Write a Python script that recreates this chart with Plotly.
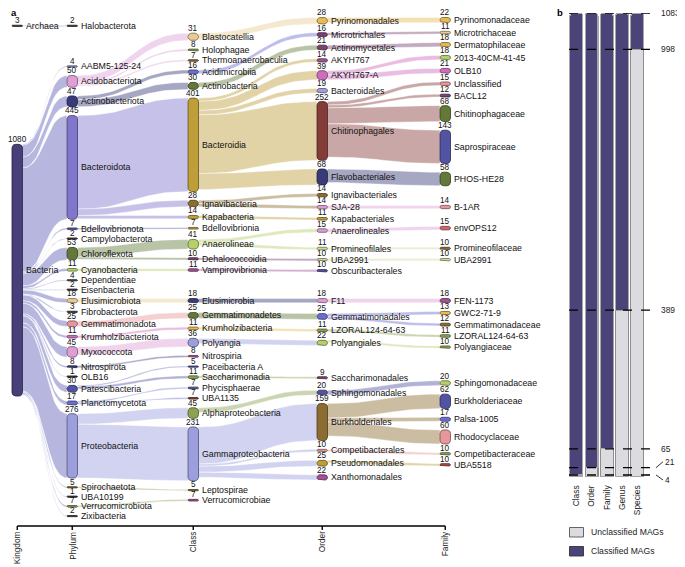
import math
import plotly.graph_objects as go

# ---------------- data ----------------
levels = ["Kingdom", "Phylum", "Class", "Order", "Family"]

kingdom_names = ["Archaea", "Bacteria"]
kingdom_values = [3, 1080]
kingdom_parents = [None, None]

phylum_names = ["Halobacterota", "AABM5-125-24", "Acidobacteriota", "Actinobacteriota", "Bacteroidota",
                "Bdellovibrionota", "Campylobacterota", "Chloroflexota", "Cyanobacteria", "Dependentiae",
                "Eisenbacteria", "Elusimicrobiota", "Fibrobacterota", "Gemmatimonadota", "Krumholzibacteriota",
                "Myxococcota", "Nitrospirota", "OLB16", "Patescibacteria", "Planctomycetota", "Proteobacteria",
                "Spirochaetota", "UBA10199", "Verrucomicrobiota", "Zixibacteria"]
phylum_values = [2, 4, 50, 47, 445, 7, 2, 53, 11, 4, 2, 18, 3, 25, 11, 45, 8, 1, 30, 17, 276, 5, 1, 7, 2]
phylum_parents = ["Archaea"] + ["Bacteria"] * 24

class_names = ["Blastocatellia", "Holophagae", "Thermoanaerobaculia", "Acidimicrobiia", "Actinobacteria",
               "Bacteroidia", "Ignavibacteria", "Kapabacteria", "Bdellovibrionia", "Anaerolineae",
               "Dehalococcoidia", "Vampirovibrionia", "Elusimicrobia", "Gemmatimonadetes", "Krumholzibacteria",
               "Polyangia", "Nitrospiria", "Paceibacteria A", "Saccharimonadia", "Phycisphaerae", "UBA1135",
               "Alphaproteobacteria", "Gammaproteobacteria", "Leptospirae", "Verrucomicrobiae"]
class_values = [31, 8, 7, 16, 30, 401, 28, 14, 7, 41, 10, 11, 18, 25, 11, 36, 8, 5, 11, 7, 7, 45, 231, 5, 7]
class_parents = ["Acidobacteriota", "Acidobacteriota", "Acidobacteriota", "Actinobacteriota", "Actinobacteriota",
                 "Bacteroidota", "Bacteroidota", "Bacteroidota", "Bdellovibrionota", "Chloroflexota",
                 "Chloroflexota", "Cyanobacteria", "Elusimicrobiota", "Gemmatimonadota", "Krumholzibacteriota",
                 "Myxococcota", "Nitrospirota", "Patescibacteria", "Patescibacteria", "Planctomycetota",
                 "Planctomycetota", "Proteobacteria", "Proteobacteria", "Spirochaetota", "Verrucomicrobiota"]

order_names = ["Pyrinomonadales", "Microtrichales", "Actinomycetales", "AKYH767", "AKYH767-A", "Bacteroidales",
               "Chitinophagales", "Flavobacteriales", "Ignavibacteriales", "SJA-28", "Kapabacteriales",
               "Anaerolineales", "Promineofilales", "UBA2991", "Obscuribacterales", "F11", "Gemmatimonadales",
               "LZORAL124-64-63", "Polyangiales", "Saccharimonadales", "Sphingomonadales", "Burkholderiales",
               "Competibacterales", "Pseudomonadales", "Xanthomonadales"]
order_values = [28, 16, 21, 14, 39, 19, 252, 68, 14, 14, 11, 15, 11, 10, 10, 18, 25, 11, 22, 9, 20, 159, 10, 25, 22]
order_parents = ["Blastocatellia", "Acidimicrobiia", "Actinobacteria", "Bacteroidia", "Bacteroidia", "Bacteroidia",
                 "Bacteroidia", "Bacteroidia", "Ignavibacteria", "Ignavibacteria", "Kapabacteria", "Anaerolineae",
                 "Anaerolineae", "Dehalococcoidia", "Vampirovibrionia", "Elusimicrobia", "Gemmatimonadetes",
                 "Krumholzibacteria", "Polyangia", "Saccharimonadia", "Alphaproteobacteria", "Gammaproteobacteria",
                 "Gammaproteobacteria", "Gammaproteobacteria", "Gammaproteobacteria"]

family_names = ["Pyrinomonadaceae", "Microtrichaceae", "Dermatophilaceae", "2013-40CM-41-45", "OLB10",
                "Unclassified", "BACL12", "Chitinophagaceae", "Saprospiraceae", "PHOS-HE28", "B-1AR", "envOPS12",
                "Promineofilaceae", "UBA2991", "FEN-1173", "GWC2-71-9", "Gemmatimonadaceae", "LZORAL124-64-63",
                "Polyangiaceae", "Sphingomonadaceae", "Burkholderiaceae", "Palsa-1005", "Rhodocyclaceae",
                "Competibacteraceae", "UBA5518"]
family_values = [22, 11, 18, 18, 21, 15, 12, 68, 143, 58, 14, 15, 10, 10, 18, 13, 12, 11, 10, 20, 62, 17, 60, 10, 10]
family_parents = ["Pyrinomonadales", "Microtrichales", "Actinomycetales", "AKYH767-A", "AKYH767-A",
                  "Chitinophagales", "Chitinophagales", "Chitinophagales", "Chitinophagales", "Flavobacteriales",
                  "SJA-28", "Anaerolineales", "Promineofilales", "UBA2991", "F11", "Gemmatimonadales",
                  "Gemmatimonadales", "LZORAL124-64-63", "Polyangiales", "Sphingomonadales", "Burkholderiales",
                  "Burkholderiales", "Burkholderiales", "Competibacterales", "Pseudomonadales"]

# panel b data
bar_levels = ["Class", "Order", "Family", "Genus", "Species"]
unclassified_mags = [4, 21, 65, 389, 998]
classified_mags = [1079, 1062, 1018, 694, 85]
marked_counts = [1083, 998, 389, 65, 21, 4]

# ---------------- styles ----------------
kingdom_colors = ["#3c3c3c", "#463f7a"]
phylum_colors = ["#3c3c3c", "#9c9ede", "#de9ed6", "#393b79", "#8076cc", "#5254a3", "#3c3c3c", "#637939",
                 "#b5cf6b", "#3c3c3c", "#3c3c3c", "#e7cb94", "#3c3c3c", "#e7969c", "#ce6dbd", "#de9ed6",
                 "#393b79", "#3c3c3c", "#5254a3", "#6b6ecf", "#9c9ede", "#8c6d31", "#3c3c3c", "#8ca252", "#3c3c3c"]
class_colors = ["#e7cb94", "#8ca252", "#8c6d31", "#6b6ecf", "#637939", "#bd9e39", "#8c6d31", "#bd9e39",
                "#bd9e39", "#b5cf6b", "#7b4173", "#a55194", "#393b79", "#637939", "#e7ba52", "#9c9ede",
                "#a55194", "#5254a3", "#8ca252", "#5254a3", "#843c39", "#8ca252", "#9c9ede", "#8c6d31", "#a55194"]
order_colors = ["#e7ba52", "#7b4173", "#7b4173", "#a55194", "#ce6dbd", "#9c9ede", "#843c39", "#393b79",
                "#8c6d31", "#de9ed6", "#bd9e39", "#de9ed6", "#cedb9c", "#cedb9c", "#5254a3", "#de9ed6",
                "#6b6ecf", "#8ca252", "#b5cf6b", "#7b4173", "#5254a3", "#8c6d31", "#e7969c", "#bd9e39", "#a55194"]
family_colors = ["#e7ba52", "#e7cb94", "#e7ba52", "#b5cf6b", "#ce6dbd", "#e7969c", "#7b4173", "#637939",
                 "#5254a3", "#637939", "#e7969c", "#d6616b", "#8c6d31", "#cedb9c", "#a55194", "#e7ba52",
                 "#8c6d31", "#8ca252", "#8ca252", "#b5cf6b", "#5254a3", "#6b6ecf", "#e7969c", "#8ca252", "#ad494a"]
kingdom_link_color = "rgb(182,182,222)"

# page geometry: the page body has an 8px margin, so the figure starts at (8, 8)
OFF = 8
W, H = 685 - OFF, 567 - OFF
FONT = "Liberation Sans, Arial, Helvetica, sans-serif"


def px(x):
    return (x - OFF) / W


def py_(y):
    return 1 - (y - OFF) / H


# sankey layout parameters (page pixels)
ky = 0.233            # px per MAG
pad = 8.7             # px between nodes
col_top = [24.0, 24.0, 24.0, 17.5, 17.5]      # upper bound of each column
col_bot = [516.3, 516.3, 501.0, 480.0, 466.0]  # lower bound of each column
iterations = 32
col_left = [12, 67, 188, 317, 440]
node_w = 10.5


def rgb(hexc):
    return int(hexc[1:3], 16), int(hexc[3:5], 16), int(hexc[5:7], 16)


def blend(hexc, a):
    r, g, b = rgb(hexc)
    return "rgb(%d,%d,%d)" % (round(r * a + 255 * (1 - a)), round(g * a + 255 * (1 - a)), round(b * a + 255 * (1 - a)))


def darker(hexc, f=0.5):
    r, g, b = rgb(hexc)
    return "rgb(%d,%d,%d)" % (round(r * f), round(g * f), round(b * f))


# ---------------- build nodes ----------------
level_data = [
    (kingdom_names, kingdom_values, kingdom_parents, kingdom_colors),
    (phylum_names, phylum_values, phylum_parents, phylum_colors),
    (class_names, class_values, class_parents, class_colors),
    (order_names, order_values, order_parents, order_colors),
    (family_names, family_values, family_parents, family_colors),
]
nodes, cols, index = [], [[] for _ in levels], {}
for lev, (names, vals, parents, colors) in enumerate(level_data):
    for n, v, p, c in zip(names, vals, parents, colors):
        i = len(nodes)
        nodes.append(dict(level=lev, name=n, value=v, color=c,
                          parent=index[(lev - 1, p)] if p else None, children=[], dy=v * ky))
        index[(lev, n)] = i
        cols[lev].append(i)
for i, n in enumerate(nodes):
    if n["parent"] is not None:
        nodes[n["parent"]]["children"].append(i)


def shift(i, d):
    nodes[i]["y0"] += d
    nodes[i]["y1"] += d


def mid(i):
    return (nodes[i]["y0"] + nodes[i]["y1"]) / 2


def kids(p):
    return sorted(nodes[p]["children"], key=lambda c: (nodes[c]["y0"], c))


def target_top(s, t):
    ch = kids(s)
    y = nodes[s]["y0"] - (len(ch) - 1) * pad / 2
    for c in ch:
        if c == t:
            break
        y += nodes[c]["dy"] + pad
    return y


def source_top(s, t):
    y = nodes[t]["y0"]
    for c in kids(s):
        if c == t:
            break
        y -= nodes[c]["dy"]
    return y


def top_to_bottom(col, y, k, a):
    for j in range(k, len(col)):
        i = col[j]
        d = (y - nodes[i]["y0"]) * a
        if d > 1e-6:
            shift(i, d)
        y = nodes[i]["y1"] + pad


def bottom_to_top(col, y, k, a):
    for j in range(k, -1, -1):
        i = col[j]
        d = (nodes[i]["y1"] + pad - y) * a
        if d > 1e-6:
            shift(i, -d)
        y = nodes[i]["y0"]


def resolve(ci, a):
    col = cols[ci]
    top, bot = col_top[ci], col_bot[ci] + pad
    if ci <= 1:
        top_to_bottom(col, top, 0, 1.0)
        bottom_to_top(col, bot, len(col) - 1, 1.0)
        top_to_bottom(col, top, 0, 1.0)
    else:
        k = len(col) >> 1
        s = col[k]
        bottom_to_top(col, nodes[s]["y0"] - pad, k - 1, a)
        top_to_bottom(col, nodes[s]["y1"] + pad, k + 1, a)
        bottom_to_top(col, bot, len(col) - 1, a)
        top_to_bottom(col, top, 0, a)


for ci, col in enumerate(cols):
    y = col_top[ci]
    for i in col:
        nodes[i]["y0"] = y
        nodes[i]["y1"] = y + nodes[i]["dy"]
        y = nodes[i]["y1"] + pad
    s = (col_bot[ci] - y + 2 * pad) / (len(col) + 1)
    for k, i in enumerate(col):
        shift(i, s * (k + 1))

for it in range(iterations):
    alpha = 0.99 ** it
    beta = max(1 - alpha, (it + 1) / iterations)
    for ci in range(len(cols) - 2, -1, -1):
        for s in cols[ci]:
            ch = nodes[s]["children"]
            if not ch:
                continue
            ww = sum(nodes[t]["value"] for t in ch)
            if ci == 0:
                yy = sum(mid(t) * nodes[t]["value"] for t in ch) / ww
                shift(s, (yy - mid(s)) * alpha)
            else:
                yy = sum(source_top(s, t) * nodes[t]["value"] for t in ch) / ww
                shift(s, (yy - nodes[s]["y0"]) * alpha)
        resolve(ci, beta)
    for ci in range(1, len(cols)):
        for t in cols[ci]:
            p = nodes[t]["parent"]
            if p is None:
                continue
            if ci == 1:
                shift(t, (mid(p) - mid(t)) * alpha)
            else:
                shift(t, (target_top(p, t) - nodes[t]["y0"]) * alpha)
        resolve(ci, beta)
# final centring of kingdom nodes on their children
for s in cols[0]:
    ch = nodes[s]["children"]
    ww = sum(nodes[t]["value"] for t in ch)
    shift(s, sum(mid(t) * nodes[t]["value"] for t in ch) / ww - mid(s))
resolve(0, 1.0)

fig = go.Figure()

# ---------------- links ----------------
N = 28
for i, n in enumerate(nodes):
    sy = n["y0"]
    x0 = col_left[n["level"]] + node_w
    for c in kids(i):
        t = nodes[c]
        x1 = col_left[t["level"]]
        w = max(t["dy"], 0.8)
        xm = (x0 + x1) / 2
        xs, ys = [], []
        for k in range(N + 1):
            tt = k / N
            xs.append((1 - tt) ** 3 * x0 + 3 * (1 - tt) ** 2 * tt * xm + 3 * (1 - tt) * tt ** 2 * xm + tt ** 3 * x1)
            ys.append(sy + (t["y0"] - sy) * (3 * tt * tt - 2 * tt ** 3))
        X = xs + xs[::-1] + [xs[0]]
        Y = ys + [v + w for v in ys[::-1]] + [ys[0]]
        col = kingdom_link_color if n["level"] == 0 else blend(n["color"], 0.45)
        fig.add_trace(go.Scatter(x=X, y=Y, mode="lines", fill="toself", fillcolor=col,
                                 line=dict(width=0.4, color="white"), hoverinfo="skip", showlegend=False,
                                 xaxis="x", yaxis="y"))
        sy += t["dy"]

# ---------------- nodes ----------------
annotations = []
for n in nodes:
    x0 = col_left[n["level"]]
    h = max(n["dy"], 1.2)
    cy = (n["y0"] + n["y1"]) / 2
    y0 = cy - h / 2
    r = min(3.5, h / 2, node_w / 2)
    pts = []
    for cx, ccy, a0, a1 in [(x0 + node_w - r, y0 + r, -90, 0), (x0 + node_w - r, y0 + h - r, 0, 90),
                            (x0 + r, y0 + h - r, 90, 180), (x0 + r, y0 + r, 180, 270)]:
        for k in range(7):
            a = math.radians(a0 + (a1 - a0) * k / 6)
            pts.append((cx + r * math.cos(a), ccy + r * math.sin(a)))
    pts.append(pts[0])
    fig.add_trace(go.Scatter(x=[p[0] for p in pts], y=[p[1] for p in pts], mode="lines", fill="toself",
                             fillcolor=n["color"], line=dict(width=0.8, color=darker(n["color"])),
                             hoverinfo="skip", showlegend=False, xaxis="x", yaxis="y"))
    annotations.append(dict(x=x0 + node_w + 1.2, y=cy, xref="x", yref="y", text=n["name"],
                            showarrow=False, xanchor="left", yanchor="middle",
                            font=dict(family=FONT, size=8.8, color="#111")))
    annotations.append(dict(x=x0 + node_w / 2, y=y0 - 4.6, xref="x", yref="y", text=str(n["value"]),
                            showarrow=False, xanchor="center", yanchor="middle",
                            font=dict(family=FONT, size=8.2, color="#111")))

# ---------------- bottom axis for panel a ----------------
shapes = []
centers = [c + node_w / 2 for c in col_left]
axis_y = 526
shapes.append(dict(type="line", xref="x", yref="y", x0=centers[0], x1=centers[-1], y0=axis_y, y1=axis_y,
                   line=dict(color="black", width=1.6)))
for cx, lab in zip(centers, levels):
    shapes.append(dict(type="line", xref="x", yref="y", x0=cx, x1=cx, y0=axis_y, y1=axis_y + 4,
                       line=dict(color="black", width=1.4)))
    annotations.append(dict(x=cx, y=axis_y + 3.5, xref="x", yref="y", text=lab, textangle=-90, showarrow=False,
                            xanchor="center", yanchor="top", font=dict(family=FONT, size=8.3, color="#222")))

annotations.append(dict(x=px(8.5), y=py_(12.5), xref="paper", yref="paper", text="<b>a</b>", showarrow=False,
                        xanchor="left", yanchor="middle", font=dict(family=FONT, size=9.5, color="black")))
annotations.append(dict(x=px(555), y=py_(13), xref="paper", yref="paper", text="<b>b</b>", showarrow=False,
                        xanchor="left", yanchor="middle", font=dict(family=FONT, size=9.5, color="black")))

# ---------------- panel b ----------------
fig.add_trace(go.Bar(x=bar_levels, y=unclassified_mags, name="Unclassified MAGs", xaxis="x2", yaxis="y2",
                     marker=dict(color="#dcdce0", line=dict(color="#8e8e8e", width=1.1), cornerradius=3),
                     showlegend=False, hoverinfo="skip"))
fig.add_trace(go.Bar(x=bar_levels, y=classified_mags, name="Classified MAGs", xaxis="x2", yaxis="y2",
                     marker=dict(color="#4a4479", line=dict(color="#a6a6a6", width=1.1)),
                     showlegend=False, hoverinfo="skip"))

x_dash0, x_dash1 = px(569), px(656)
for v in marked_counts:
    shapes.append(dict(type="line", xref="paper", yref="y2", x0=x_dash0, x1=x_dash1, y0=v, y1=v,
                       line=dict(color="black", width=1.3, dash="dash")))
    if v in (21, 4):
        annotations.append(dict(x=x_dash1, y=v, xref="paper", yref="y2", text=str(v), showarrow=True,
                                arrowhead=0, arrowwidth=0.8, arrowcolor="black", ax=7, ay=-6 if v == 21 else 5,
                                xanchor="left", yanchor="middle", font=dict(family=FONT, size=8.4, color="#222")))
    else:
        annotations.append(dict(x=x_dash1 + 3 / W, y=v, xref="paper", yref="y2", text=str(v), showarrow=False,
                                xanchor="left", yanchor="middle", font=dict(family=FONT, size=8.4, color="#222")))

# manual legend
legend_items = [("Unclassified MAGs", "#dcdce0", "#555555"), ("Classified MAGs", "#4a4479", "#333333")]
for k, (lab, fc, lc) in enumerate(legend_items):
    yy = 527.5 + 19 * k
    shapes.append(dict(type="rect", xref="paper", yref="paper", x0=px(569.5), x1=px(583.5),
                       y0=py_(yy + 9.5), y1=py_(yy), fillcolor=fc, line=dict(color=lc, width=0.9)))
    annotations.append(dict(x=px(589), y=py_(yy + 4.8), xref="paper", yref="paper", text=lab,
                            showarrow=False, xanchor="left", yanchor="middle",
                            font=dict(family=FONT, size=8.6, color="#222")))

fig.update_layout(
    width=W, height=H, margin=dict(l=0, r=0, t=0, b=0),
    paper_bgcolor="white", plot_bgcolor="white",
    xaxis=dict(range=[OFF, OFF + W], domain=[0, 1], visible=False, fixedrange=True),
    yaxis=dict(range=[OFF + H, OFF], domain=[0, 1], visible=False, fixedrange=True),
    xaxis2=dict(domain=[px(568.7), px(644.9)], anchor="y2", type="category", showgrid=False, showline=False,
                ticks="", tickangle=-90, ticklabelstandoff=6,
                tickfont=dict(family=FONT, size=8.4, color="#222")),
    yaxis2=dict(domain=[py_(476.7), py_(13)], range=[0, 1083], anchor="x2", visible=False),
    barmode="stack", bargap=0.16,
    shapes=shapes, annotations=annotations, showlegend=False,
)

fig.write_html("out.html")
